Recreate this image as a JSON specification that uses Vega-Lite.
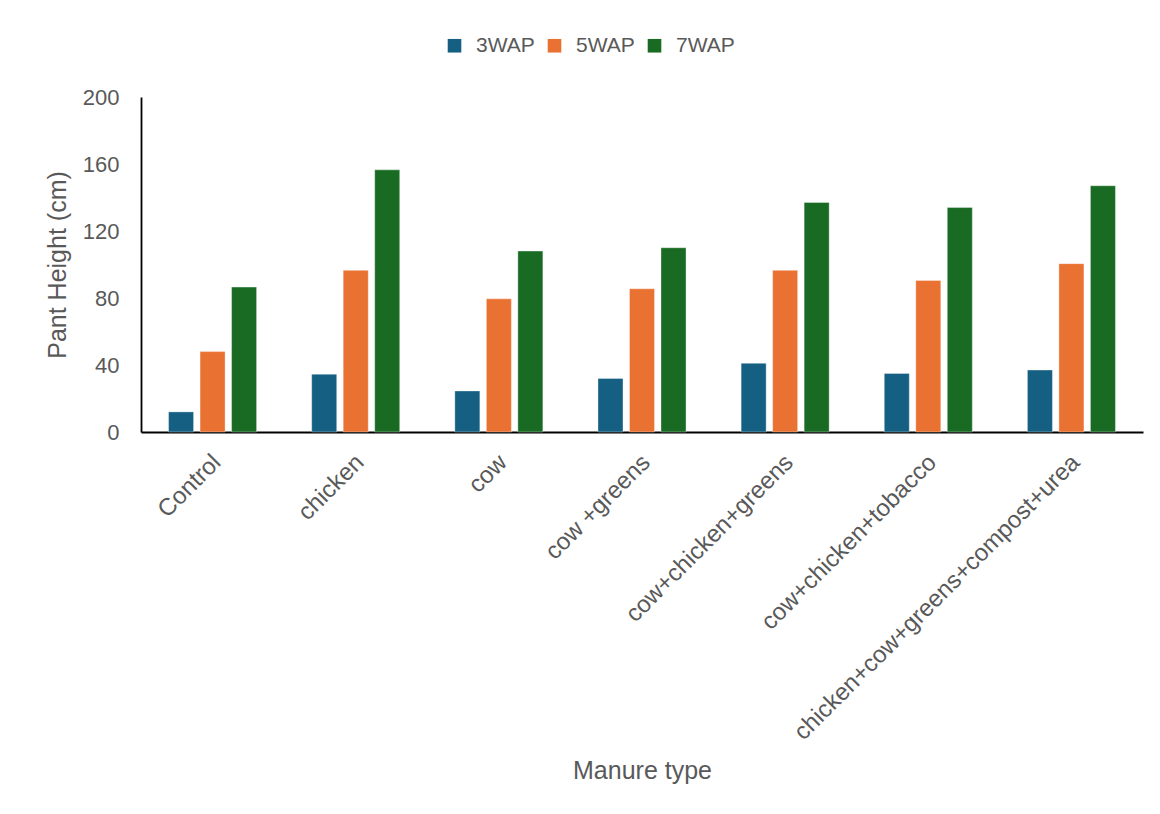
{
  "$schema": "https://vega.github.io/schema/vega-lite/v6.json",
  "autosize": {"type": "none"},
  "padding": {"left": 141, "top": 97, "right": 17, "bottom": 382},
  "width": 1002,
  "height": 335,
  "background": "white",
  "config": {
    "view": {"stroke": null},
    "font": "Liberation Sans",
    "axis": {"labelFont": "Liberation Sans", "titleFont": "Liberation Sans"},
    "legend": {"labelFont": "Liberation Sans"}
  },
  "data": {
    "values": [
      {"manure": "Control", "week": "3WAP", "height": 12},
      {"manure": "Control", "week": "5WAP", "height": 48},
      {"manure": "Control", "week": "7WAP", "height": 86.5},
      {"manure": "chicken", "week": "3WAP", "height": 34.5},
      {"manure": "chicken", "week": "5WAP", "height": 96.5},
      {"manure": "chicken", "week": "7WAP", "height": 156.5},
      {"manure": "cow", "week": "3WAP", "height": 24.5},
      {"manure": "cow", "week": "5WAP", "height": 79.5},
      {"manure": "cow", "week": "7WAP", "height": 108},
      {"manure": "cow +greens", "week": "3WAP", "height": 32},
      {"manure": "cow +greens", "week": "5WAP", "height": 85.5},
      {"manure": "cow +greens", "week": "7WAP", "height": 110},
      {"manure": "cow+chicken+greens", "week": "3WAP", "height": 41},
      {"manure": "cow+chicken+greens", "week": "5WAP", "height": 96.5},
      {"manure": "cow+chicken+greens", "week": "7WAP", "height": 137},
      {"manure": "cow+chicken+tobacco", "week": "3WAP", "height": 35},
      {"manure": "cow+chicken+tobacco", "week": "5WAP", "height": 90.5},
      {"manure": "cow+chicken+tobacco", "week": "7WAP", "height": 134},
      {"manure": "chicken+cow+greens+compost+urea", "week": "3WAP", "height": 37},
      {"manure": "chicken+cow+greens+compost+urea", "week": "5WAP", "height": 100.5},
      {"manure": "chicken+cow+greens+compost+urea", "week": "7WAP", "height": 147}
    ]
  },
  "mark": {"type": "bar", "stroke": "white", "strokeWidth": 0.7, "strokeOpacity": 0.5},
  "encoding": {
    "x": {
      "field": "manure",
      "type": "nominal",
      "sort": null,
      "scale": {"paddingInner": 0.385, "paddingOuter": 0.1925},
      "axis": {
        "title": "Manure type",
        "titleFontSize": 25,
        "titleFontWeight": "normal",
        "titleColor": "#595959",
        "titlePadding": 126,
        "labelAngle": -45,
        "labelFontSize": 24,
        "labelColor": "#595959",
        "labelPadding": 18,
        "labelOffset": -4,
        "labelLimit": 600,
        "ticks": false,
        "domainColor": "black",
        "domainWidth": 1.8,
        "grid": false
      }
    },
    "xOffset": {
      "field": "week",
      "type": "nominal",
      "scale": {"paddingInner": 0.206, "paddingOuter": 0}
    },
    "y": {
      "field": "height",
      "type": "quantitative",
      "scale": {"domain": [0, 200], "nice": false},
      "axis": {
        "title": "Pant Height (cm)",
        "titleFontSize": 25,
        "titleFontWeight": "normal",
        "titleColor": "#595959",
        "titlePadding": 12,
        "values": [0, 40, 80, 120, 160, 200],
        "labelFontSize": 22,
        "labelColor": "#595959",
        "labelPadding": 22,
        "ticks": false,
        "domainColor": "black",
        "domainWidth": 1.8,
        "grid": false
      }
    },
    "color": {
      "field": "week",
      "type": "nominal",
      "scale": {"domain": ["3WAP", "5WAP", "7WAP"], "range": ["#156082", "#E97132", "#196B24"]},
      "legend": {
        "title": null,
        "orient": "none",
        "legendX": 303,
        "legendY": -62,
        "direction": "horizontal",
        "symbolType": "square",
        "symbolSize": 185,
        "symbolStrokeWidth": 0,
        "labelFontSize": 21,
        "labelColor": "#595959",
        "labelOffset": 11,
        "columnPadding": 9
      }
    }
  }
}
